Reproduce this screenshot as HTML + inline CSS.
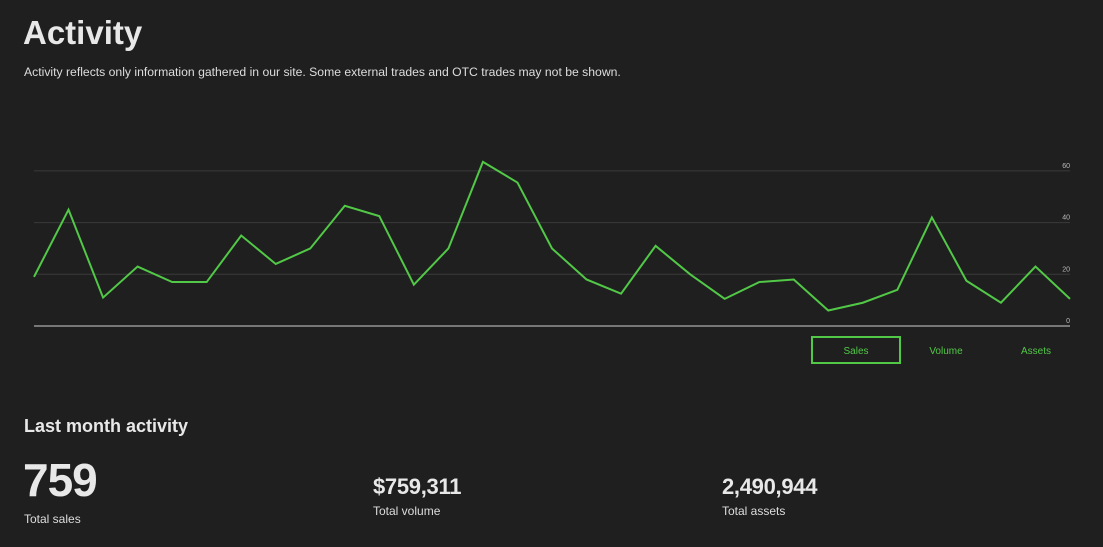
<!DOCTYPE html>
<html><head><meta charset="utf-8"><style>
body{margin:0;width:1103px;height:547px;background:#1f1f1f;overflow:hidden;font-family:"Liberation Sans",sans-serif;color:#e8e8e8;position:relative}
.a{position:absolute;white-space:nowrap}
</style></head><body>
<div class="a" style="left:23px;top:14px;font-size:33px;font-weight:bold;">Activity</div>
<div class="a" style="left:24px;top:65px;font-size:12.2px;color:#ddd">Activity reflects only information gathered in our site. Some external trades and OTC trades may not be shown.</div>
<svg class="a" style="left:0;top:0" width="1103" height="380">
<g id="grid"></g><path id="line" fill="none" stroke="#52c847" stroke-width="2" stroke-linejoin="miter"/>
</svg>
<div class="a" style="left:811px;top:336px;width:86px;height:24px;border:2px solid #52c847;color:#52c847;font-size:10px;text-align:center;line-height:27px">Sales</div>
<div class="a" style="left:901px;top:338px;width:90px;line-height:27px;color:#52c847;font-size:10px;text-align:center">Volume</div>
<div class="a" style="left:991px;top:338px;width:90px;line-height:27px;color:#52c847;font-size:10px;text-align:center">Assets</div>
<div class="a" style="left:24px;top:416px;font-size:18px;font-weight:bold">Last month activity</div>
<div class="a" style="left:23px;top:453px;font-size:46px;font-weight:bold;letter-spacing:-1px">759</div>
<div class="a" style="left:24px;top:512px;font-size:12px;color:#ddd">Total sales</div>
<div class="a" style="left:373px;top:474px;font-size:22px;font-weight:bold;letter-spacing:-0.3px">$759,311</div>
<div class="a" style="left:373px;top:504px;font-size:12px;color:#ddd">Total volume</div>
<div class="a" style="left:722px;top:474px;font-size:22px;font-weight:bold;letter-spacing:-0.3px">2,490,944</div>
<div class="a" style="left:722px;top:504px;font-size:12px;color:#ddd">Total assets</div>
<script>
const salesValues=[19,45,11,23,17,17,35,24,30,46.5,42.5,16,30,63.5,55.5,30,18,12.5,31,20,10.5,17,18,6,9,14,42,17.5,9,23,10.5];
const yTicks=[0,20,40,60];
const x0=34,x1=1070,y0=326,pxPer=51.7/20;
const xs=i=>x0+(x1-x0)*i/(salesValues.length-1);
const ys=v=>y0-v*pxPer;
const ns="http://www.w3.org/2000/svg";
const g=document.getElementById('grid');
yTicks.forEach(t=>{
 const l=document.createElementNS(ns,'line');
 
 
 l.setAttribute('x1',x0);l.setAttribute('x2',x1);
 l.setAttribute('y1',ys(t));l.setAttribute('y2',ys(t));
 l.setAttribute('stroke',t===0?'#777':'#3a3a3a');l.setAttribute('stroke-width',t===0?2:1);
 g.appendChild(l);
 const tx=document.createElementNS(ns,'text');
 
 
 tx.setAttribute('x',1070);tx.setAttribute('y',ys(t)-3);
 tx.setAttribute('text-anchor','end');tx.setAttribute('font-size','7');tx.setAttribute('fill','#bbb');
 tx.setAttribute('font-family','Liberation Sans, sans-serif');
 tx.textContent=t;g.appendChild(tx);
});
document.getElementById('line').setAttribute('d',salesValues.map((v,i)=>(i?'L':'M')+xs(i)+' '+ys(v)).join(' '));
</script>
</body></html>
